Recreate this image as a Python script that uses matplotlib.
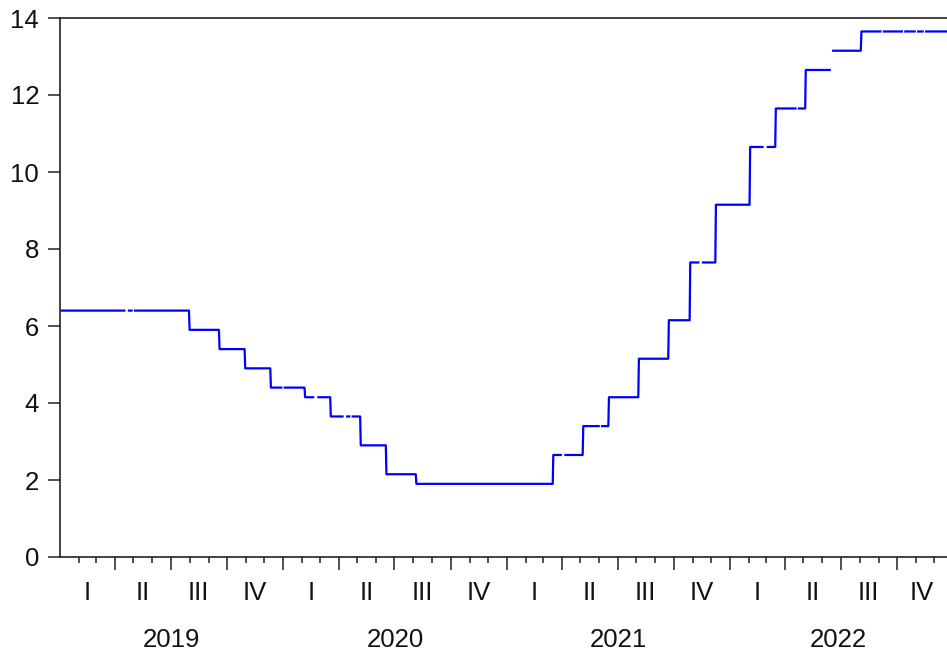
import numpy as np
import pandas as pd
import matplotlib
matplotlib.use('Agg')
import matplotlib.pyplot as plt
import matplotlib.dates as mdates

# step levels of the rate (% p.a.) and the day each level starts
change_dates = ['2019-01-02', '2019-08-01', '2019-09-19', '2019-10-31', '2019-12-12',
                '2020-02-06', '2020-03-19', '2020-05-07', '2020-06-18', '2020-08-06',
                '2021-03-18', '2021-05-06', '2021-06-17', '2021-08-05', '2021-09-23',
                '2021-10-28', '2021-12-09', '2022-02-03', '2022-03-17', '2022-05-05',
                '2022-06-16', '2022-08-04']
rates = [6.40, 5.90, 5.40, 4.90, 4.40,
         4.15, 3.65, 2.90, 2.15, 1.90,
         2.65, 3.40, 4.15, 5.15, 6.15,
         7.65, 9.15, 10.65, 11.65, 12.65,
         13.15, 13.65]
# days with no observation (gaps in the line)
missing_days = ['2019-04-19', '2019-05-01', '2020-01-01', '2020-02-24', '2020-02-25',
                '2020-04-10', '2020-04-21', '2021-04-02', '2021-06-03', '2021-11-15',
                '2022-02-28', '2022-03-01', '2022-04-21', '2022-06-16', '2022-09-07',
                '2022-10-12', '2022-11-02', '2022-11-15']
roman = ['I', 'II', 'III', 'IV']
years = [2019, 2020, 2021, 2022]

# daily (weekday) series
days = pd.bdate_range('2019-01-02', '2022-12-30')
starts = pd.to_datetime(change_dates)
idx = np.searchsorted(starts.values, days.values, side='right') - 1
vals = np.array(rates)[idx].astype(float)
vals[days.isin(pd.to_datetime(missing_days))] = np.nan

plt.rcParams['font.family'] = ['Liberation Sans', 'DejaVu Sans']

fig = plt.figure(figsize=(9.47, 6.55), dpi=100)
ax = fig.add_axes([60 / 947, 98 / 655, 887 / 947, 539 / 655])

ax.plot(days, vals, color='#0000ff', lw=1.6, solid_capstyle='butt')

x0 = pd.Timestamp('2019-01-01')
x1 = pd.Timestamp('2022-12-22')
ax.set_xlim(x0, x1)
ax.set_ylim(0, 14)
ax.set_yticks(np.arange(0, 15, 2))

for s in ['left', 'top', 'bottom']:
    ax.spines[s].set_color('#222222')
    ax.spines[s].set_linewidth(1.2)
ax.spines['right'].set_visible(False)

ax.tick_params(axis='y', direction='out', length=9, width=1.1, color='#222222',
               labelsize=18.5, pad=6, labelcolor='#111111')

# quarter (long) and month (short) ticks, none on the y axis corner
ax.set_xticks(pd.date_range('2019-04-01', '2022-12-31', freq='QS'))
ax.set_xticks(pd.date_range('2019-02-01', '2022-12-31', freq='MS'), minor=True)
ax.tick_params(axis='x', which='major', direction='out', length=9.5, width=1.1,
               color='#222222', labelbottom=False)
ax.tick_params(axis='x', which='minor', direction='out', length=4.3, width=1.1,
               color='#222222', labelbottom=False)

trans = ax.get_xaxis_transform()
xr = mdates.date2num(x1)
for y in years:
    for q in range(4):
        a = mdates.date2num(pd.Timestamp(year=y, month=3 * q + 1, day=1))
        b = mdates.date2num(pd.Timestamp(year=y, month=3 * q + 1, day=1) + pd.DateOffset(months=3))
        b = min(b, xr)
        ax.text((a + b) / 2, -0.066, roman[q], transform=trans, ha='center', va='center',
                fontsize=18.5, color='#111111')
    a = mdates.date2num(pd.Timestamp(year=y, month=1, day=1))
    b = min(mdates.date2num(pd.Timestamp(year=y + 1, month=1, day=1)), xr)
    ax.text((a + b) / 2, -0.154, str(y), transform=trans, ha='center', va='center',
            fontsize=18.5, color='#111111')

fig.savefig('out.png', dpi=100)
